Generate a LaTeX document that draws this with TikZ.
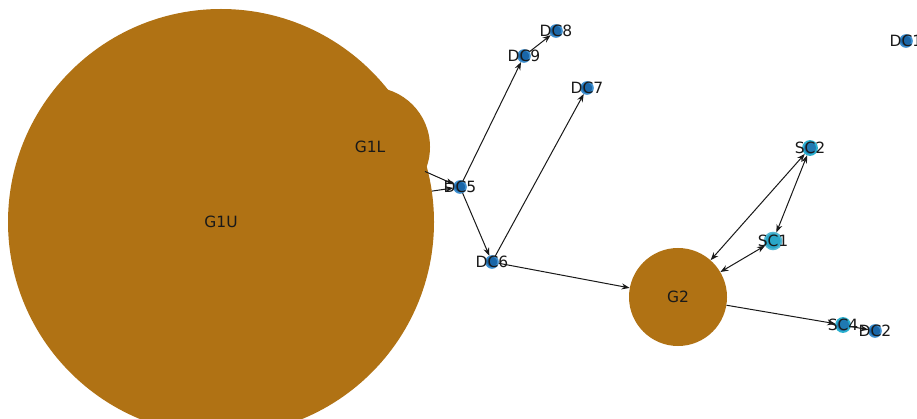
\documentclass[tikz,border=0pt]{standalone}
\usepackage{fontspec}
\setmainfont{DejaVu Sans}
\usetikzlibrary{arrows.meta}
\definecolor{gbrown}{HTML}{B07214}
\definecolor{dcfill}{HTML}{1A66A8}
\definecolor{dcedge}{HTML}{3D8FD0}
\definecolor{scedge}{HTML}{2AB0D0}
\definecolor{scfill}{HTML}{2AA6C8}
\tikzset{
  gen/.style={circle, fill=gbrown, draw=none, inner sep=0pt},
  dcnode/.style={circle, fill=dcfill, draw=dcedge, line width=1.6pt, inner sep=0pt, minimum size=12pt},
  scnode/.style={circle, fill=dcfill!70!scfill, draw=scedge, line width=1.8pt, inner sep=0pt, minimum size=14pt},
  sconode/.style={circle, fill=scfill, draw=scfill!80!white, line width=1.5pt, inner sep=0pt, minimum size=17pt},
  link/.style={draw=black!90, line width=1pt, -{Stealth[length=8pt,width=6pt]}},
  blink/.style={draw=black!90, line width=1pt, {Stealth[length=8pt,width=6pt]}-{Stealth[length=8pt,width=6pt]}},
  txt/.style={font=\fontsize{15.5}{18}\selectfont, text=black!90, inner sep=0pt}
}
\begin{document}
\begin{tikzpicture}[x=1pt, y=-1pt]
\clip (0,0) rectangle (917,419);
\fill[white] (0,0) rectangle (917,419);

% generator bubbles
\node[gen, minimum size=426pt] (G1U) at (221,222) {};
\node[gen, minimum size=120pt] (G1L) at (370,147) {};
\node[gen, minimum size=98pt] (G2) at (678,297) {};

% small bus nodes
\node[dcnode] (DC5) at (460,187) {};
\node[dcnode] (DC6) at (492,262) {};
\node[dcnode] (DC7) at (587,88) {};
\node[dcnode] (DC8) at (556,31) {};
\node[dcnode] (DC9) at (524,56) {};
\node[dcnode] (DC1) at (906,41) {};
\node[dcnode] (DC2) at (875,331) {};
\node[scnode] (SC2) at (810,148) {};
\node[sconode] (SC1) at (773,241) {};
\node[scnode] (SC4) at (843,325) {};

% connections
\draw[link] (G1L) -- (DC5);
\draw[link] (G1U) -- (DC5);
\draw[link] (DC5) -- (DC9);
\draw[link] (DC9) -- (DC8);
\draw[link] (DC5) -- (DC6);
\draw[link] (DC6) -- (DC7);
\draw[link] (DC6) -- (G2);
\draw[link] (G2) -- (SC4);
\draw[link] (SC4) -- (DC2);
\draw[blink] (G2) -- (SC2);
\draw[blink] (G2) -- (SC1);
\draw[blink] (SC1) -- (SC2);

% labels
\foreach \n in {G1U,G1L,G2,DC1,DC2,DC5,DC6,DC7,DC8,DC9,SC1,SC2,SC4}
  \node[txt] at (\n.center) {\n};
\end{tikzpicture}
\end{document}
